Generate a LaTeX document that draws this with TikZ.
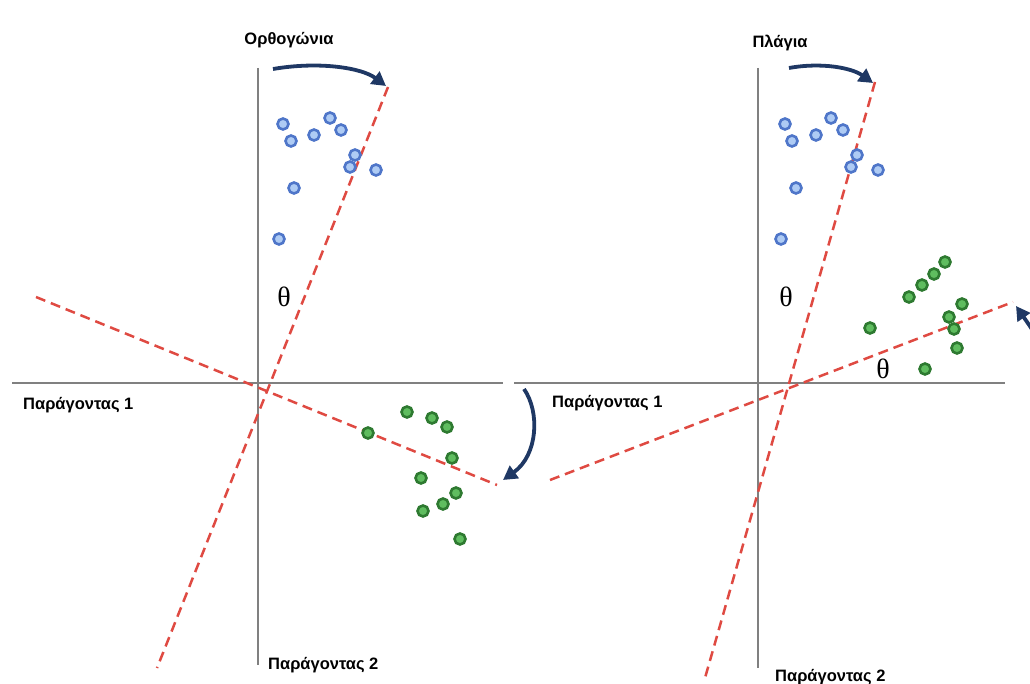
\documentclass[tikz,border=0pt]{standalone}
\usepackage{fontspec}
\setmainfont{Liberation Sans}
\newfontfamily\thetafont{Liberation Serif}
\usetikzlibrary{arrows.meta}

\definecolor{axisgray}{HTML}{808080}
\definecolor{rotred}{HTML}{DF4A42}
\definecolor{navy}{HTML}{1F3864}
\definecolor{bluering}{HTML}{4F76C9}
\definecolor{bluefill}{HTML}{AECBF4}
\definecolor{greenring}{HTML}{2E7A31}
\definecolor{greenfill}{HTML}{5FBD5F}

\begin{document}
\begin{tikzpicture}[x=1pt,y=-1pt,
  axis/.style={draw=axisgray, line width=2pt},
  rotaxis/.style={draw=rotred, line width=2.5pt, dash pattern=on 10pt off 6pt},
  turn/.style={draw=navy, line width=3.8pt, -{Triangle[length=14pt,width=15pt]}},
  bluept/.style={circle, draw=bluering, fill=bluefill, line width=2.6pt, minimum size=11pt, inner sep=0pt},
  greenpt/.style={circle, draw=greenring, fill=greenfill, line width=2.6pt, minimum size=11pt, inner sep=0pt},
  lab/.style={font=\bfseries\fontsize{16.5}{18}\selectfont, inner sep=0pt},
  ang/.style={font=\thetafont\fontsize{28}{30}\selectfont, inner sep=0pt}]
\useasboundingbox (0,0) rectangle (1030,684);

% ---------- left panel: orthogonal rotation ----------
\coordinate (L2top) at (258,68);
\coordinate (L2bot) at (258,665);
\coordinate (L1lft) at (12,383);
\coordinate (L1rgt) at (503,383);
\draw[axis] (L2top) -- (L2bot);
\draw[axis] (L1lft) -- (L1rgt);

\coordinate (LRa) at (388,87);
\coordinate (LRb) at (157,668);
\coordinate (LRc) at (36,297);
\coordinate (LRd) at (497,485);
\draw[rotaxis] (LRa) -- (LRb);
\draw[rotaxis] (LRc) -- (LRd);

\foreach \n/\p in {1/{283,124},2/{291,141},3/{314,135},4/{330,118},5/{341,130},
                  6/{355,155},7/{350,167},8/{376,170},9/{294,188},10/{279,239}}
  \node[bluept] (lb\n) at (\p) {};
\foreach \n/\p in {1/{407,412},2/{432,418},3/{447,427},4/{368,433},5/{452,458},
                  6/{421,478},7/{456,493},8/{443,504},9/{423,511},10/{460,539}}
  \node[greenpt] (lg\n) at (\p) {};

\node[ang] (lth) at (284,297) {θ};

\coordinate (LAs) at (273,69);
\coordinate (LAe) at (386,86);
\draw[turn] (LAs) .. controls (320,61) and (362,68) .. (LAe);
\coordinate (LBs) at (524,389);
\coordinate (LBe) at (503,480);
\draw[turn] (LBs) .. controls (540,412) and (538,455) .. (LBe);

\node[lab] (ltitle) at (289,40) {Ορθογώνια};
\node[lab, anchor=west] (lf1) at (23,405) {Παράγοντας 1};
\node[lab, anchor=west] (lf2) at (268,665) {Παράγοντας 2};

% ---------- right panel: oblique rotation ----------
\coordinate (R2top) at (758,68);
\coordinate (R2bot) at (758,668);
\coordinate (R1lft) at (514,383);
\coordinate (R1rgt) at (1005,383);
\draw[axis] (R2top) -- (R2bot);
\draw[axis] (R1lft) -- (R1rgt);

\coordinate (RRa) at (875,82);
\coordinate (RRb) at (705,678);
\coordinate (RRc) at (550,480);
\coordinate (RRd) at (1013,302);
\draw[rotaxis] (RRa) -- (RRb);
\draw[rotaxis] (RRc) -- (RRd);

\foreach \n/\p in {1/{785,124},2/{792,141},3/{816,135},4/{831,118},5/{843,130},
                  6/{857,155},7/{851,167},8/{878,170},9/{796,188},10/{781,239}}
  \node[bluept] (rb\n) at (\p) {};
\foreach \n/\p in {1/{945,262},2/{934,274},3/{922,285},4/{909,297},5/{962,304},
                  6/{949,317},7/{954,329},8/{870,328},9/{957,348},10/{925,369}}
  \node[greenpt] (rg\n) at (\p) {};

\node[ang] (rth1) at (786,297) {θ};
\node[ang] (rth2) at (883,369) {θ};

\coordinate (RAs) at (789,68);
\coordinate (RAe) at (873,83);
\draw[turn] (RAs) .. controls (822,62) and (852,68) .. (RAe);
\coordinate (RBs) at (1042,348);
\coordinate (RBe) at (1016,306);
\draw[turn] (RBs) .. controls (1034,332) .. (RBe);

\node[lab] (rtitle) at (780,43) {Πλάγια};
\node[lab, anchor=west] (rf1) at (552,403) {Παράγοντας 1};
\node[lab, anchor=west] (rf2) at (775,677) {Παράγοντας 2};
\end{tikzpicture}
\end{document}
